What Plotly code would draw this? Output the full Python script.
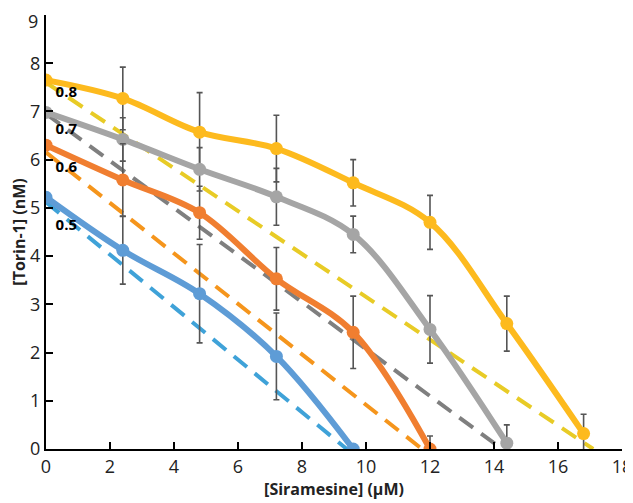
import plotly.graph_objects as go

# siramesine doses (uM)
dose = [0, 2.4, 4.8, 7.2, 9.6, 12, 14.4, 16.8]

# measured torin-1 (nM) for each fraction
y08 = [7.65, 7.27, 6.57, 6.23, 5.52, 4.70, 2.60, 0.32]
e08 = [0, 0.65, 0.82, 0.69, 0.48, 0.56, 0.57, 0.40]
y07 = [6.98, 6.42, 5.80, 5.23, 4.45, 2.48, 0.12]
e07 = [0, 0.45, 0.45, 0.59, 0.38, 0.70, 0.38]
y06 = [6.30, 5.58, 4.90, 3.53, 2.42, 0.0]
e06 = [0, 0.75, 0.55, 0.65, 0.75, 0.27]
y05 = [5.22, 4.12, 3.22, 1.92, 0.0]
e05 = [0, 0.70, 1.02, 0.90, 0]

# straight additivity lines: (y intercept, x intercept)
dash08 = (7.60, 17.1)
dash07 = (6.95, 14.25)
dash06 = (6.15, 11.75)
dash05 = (5.12, 9.4)

labels = ["0.8", "0.7", "0.6", "0.5"]
label_y = [7.37, 6.62, 5.82, 4.62]

y_ticks = [0, 1, 2, 3, 4, 5, 6, 7, 8, 9]

solid_col = ["#FDBA1E", "#A5A5A5", "#F07E30", "#5E9CD6"]
dash_col = ["#E8CB26", "#7F7F7F", "#F5951C", "#3FA2D8"]

fig = go.Figure()

for d, c in zip([dash08, dash07, dash06, dash05], dash_col):
    fig.add_trace(go.Scatter(
        x=[0, d[1]], y=[d[0], 0],
        mode='lines',
        line=dict(color=c, width=4, dash='17px,10px'),
    ))

for ys, es, c in zip([y08, y07, y06, y05], [e08, e07, e06, e05], solid_col):
    fig.add_trace(go.Scatter(
        x=dose[:len(ys)], y=ys,
        mode='lines+markers',
        line=dict(color=c, width=6, shape='spline', smoothing=1.0),
        marker=dict(color=c, size=13),
        error_y=dict(type='data', array=es, color='#555555', thickness=1.6, width=3),
    ))

fig.add_trace(go.Scatter(
    x=[0.3] * 4, y=label_y,
    mode='text',
    text=['<b>%s</b>' % t for t in labels],
    textposition='middle right',
    textfont=dict(family='Open Sans', size=15, color='black'),
))

tick_font = dict(family='Open Sans', size=18, color='#222222')
axis_style = dict(
    showline=True, linecolor='black', linewidth=2,
    ticks='inside', ticklen=7, tickwidth=2, tickcolor='black',
    showgrid=False, zeroline=False, automargin=False,
    ticklabeloverflow='allow', tickfont=tick_font,
)

# top label would fall off the page, so draw it a touch lower as an annotation
fig.add_annotation(
    x=0, xref='paper', xanchor='right', xshift=-6,
    y=y_ticks[-1], yref='y', yanchor='top', yshift=8,
    text=str(y_ticks[-1]), showarrow=False, font=tick_font,
)

# page body has an 8px margin, so the figure is a little smaller than the window
fig.update_layout(
    width=625, height=495,
    margin=dict(l=38, r=11, t=7, b=54),
    paper_bgcolor='white', plot_bgcolor='white',
    showlegend=False,
    xaxis=dict(range=[0, 18], dtick=2, **axis_style,
               title=dict(text='<b>[Siramesine] (\u03bcM)</b>', standoff=2,
                          font=dict(family='Open Sans', size=16, color='#222222'))),
    yaxis=dict(range=[0, 9], tickvals=y_ticks,
               ticktext=[str(v) for v in y_ticks[:-1]] + [''], **axis_style,
               title=dict(text='<b>[Torin-1] (nM)</b>', standoff=4,
                          font=dict(family='Open Sans', size=16, color='#222222'))),
)

fig.write_html("out.html")
